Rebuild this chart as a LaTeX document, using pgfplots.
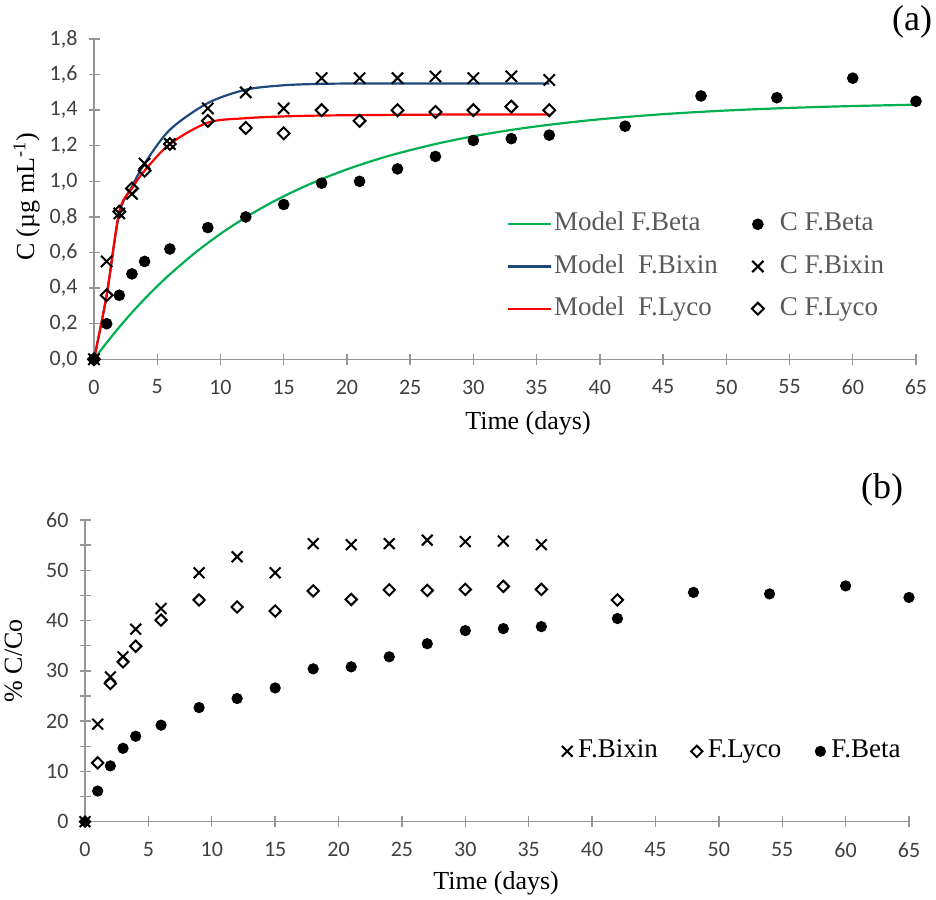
\documentclass[border=0pt]{standalone}
\usepackage{fontspec}
\setmainfont{Liberation Serif}
\newfontfamily\calibri{Carlito}
\usepackage{pgfplots}
\pgfplotsset{compat=1.18}

\definecolor{mgreen}{RGB}{0,176,80}
\definecolor{mblue}{RGB}{31,73,125}
\definecolor{mred}{RGB}{255,0,0}
\definecolor{axgray}{RGB}{150,150,150}
\definecolor{tickgray}{RGB}{64,64,64}
\definecolor{leggray}{RGB}{89,89,89}

\pgfplotsset{
  excel/.style={
    scale only axis, clip=false, set layers,
    axis lines=left, axis line style={-, draw=axgray, line width=0.7pt},
    tick style={draw=axgray, line width=0.7pt},
    tick align=center, major tick length=5.5pt, minor tick length=5.5pt,
    tick label style={font=\calibri\fontsize{11}{13}\selectfont, text=tickgray},
    /pgf/number format/assume math mode=true,
    xticklabel style={yshift=-4pt},
    yticklabel style={xshift=-2pt},
    label style={font=\fontsize{13}{15}\selectfont},
    xmin=0, xmax=65, xtick={0,5,...,65},
    legend cell align=left,
  },
  mline/.style={legend image code/.code={\draw[##1] (0pt,0pt) -- (21.5pt,0pt);}},
  mmarkA/.style={legend image code/.code={\path[draw=none,fill=none] (0pt,-3pt) rectangle (14pt,3pt); \draw[##1] plot coordinates {(4pt,0pt)};}},
  mmarkB/.style={legend image code/.code={\path[draw=none,fill=none] (0pt,-3pt) rectangle (8pt,3pt); \draw[##1] plot coordinates {(4pt,0pt)};}},
  dotm/.style={only marks, mark=*, mark size=#1, black},
  crossm/.style={only marks, mark=x, mark size=#1, black, line width=1pt},
  diam/.style={only marks, mark=square, mark size=#1, black, line width=1pt,
    mark options={fill=white, rotate=45}},
}

\begin{document}
\begin{tikzpicture}

% (a) concentration with model curves
\begin{axis}[excel,
  at={(47pt,-179.65pt)}, anchor=south west,
  width=411pt, height=160.15pt,
  ymin=0, ymax=1.8, ytick={0,0.2,...,1.8},
  yticklabel style={/pgf/number format/.cd, fixed, fixed zerofill, precision=1, use comma},
  xlabel={Time (days)}, ylabel={C (µg mL\textsuperscript{-1})},
  xlabel style={at={(axis description cs:0.528,-0.199)}, anchor=center},
  ylabel style={at={(axis description cs:-0.082,0.507)}, anchor=center},
  legend columns=2,
  legend style={at={(rel axis cs:0.502,0.468)}, anchor=north west, draw=none, fill=none,
    inner sep=0pt, font=\fontsize{13.5}{15}\selectfont, text=leggray, row sep=6.6pt,
    nodes={inner sep=1pt, text height=9.5pt, text depth=3pt},
    /tikz/every even column/.append style={column sep=15pt}},
]
\addplot[mgreen, line width=1.1pt, smooth, mline, on layer=pre main] coordinates {
  (0,0) (1,0.0934) (2,0.1808) (3,0.2626) (4,0.3391) (5,0.4107) (6,0.4776) (8,0.5989)
  (10,0.7050) (12,0.7979) (14,0.8793) (16,0.9504) (18,1.0127) (20,1.0673) (22,1.1150)
  (24,1.1568) (27,1.2099) (30,1.2534) (33,1.2890) (36,1.3181) (40,1.3490) (45,1.3776)
  (50,1.3981) (55,1.4128) (60,1.4233) (65,1.4309)};
\addlegendentry{Model F.Beta}
\addplot[dotm=2.7pt, mmarkA] coordinates {
  (0,0) (1,0.20) (2,0.36) (3,0.48) (4,0.55) (6,0.62) (9,0.74) (12,0.80) (15,0.87)
  (18,0.99) (21,1.00) (24,1.07) (27,1.14) (30,1.23) (33,1.24) (36,1.26) (42,1.31)
  (48,1.48) (54,1.47) (60,1.58) (65,1.45)};
\addlegendentry{C F.Beta}
\addplot[mblue, line width=1.1pt, smooth, mline, on layer=pre main] coordinates {
  (0,0) (1,0.36) (2,0.82) (3,0.97) (4,1.10) (6,1.29) (9,1.44) (12,1.515) (15,1.54)
  (18,1.548) (21,1.55) (24,1.55) (27,1.55) (30,1.55) (33,1.55) (36,1.55)};
\addlegendentry{Model\ \ F.Bixin}
\addplot[crossm=4pt, mmarkA] coordinates {
  (0,0) (1,0.55) (2,0.82) (3,0.93) (4,1.10) (6,1.21) (9,1.41) (12,1.50) (15,1.41)
  (18,1.58) (21,1.58) (24,1.58) (27,1.59) (30,1.58) (33,1.59) (36,1.57)};
\addlegendentry{C F.Bixin}
\addplot[mred, line width=1.1pt, smooth, mline, on layer=pre main] coordinates {
  (0,0) (1,0.36) (2,0.83) (3,0.96) (4,1.06) (6,1.21) (9,1.33) (12,1.355) (15,1.365)
  (18,1.37) (21,1.372) (24,1.374) (27,1.375) (30,1.376) (33,1.376) (36,1.376)};
\addlegendentry{Model\ \ F.Lyco}
\addplot[diam=2.1pt, mmarkA] coordinates {
  (0,0) (1,0.36) (2,0.83) (3,0.96) (4,1.06) (6,1.21) (9,1.34) (12,1.30) (15,1.27)
  (18,1.40) (21,1.34) (24,1.40) (27,1.39) (30,1.40) (33,1.42) (36,1.40)};
\addlegendentry{C F.Lyco}
\end{axis}

% (b) percentage C/Co
\begin{axis}[excel,
  at={(42.5pt,-410.85pt)}, anchor=south west,
  width=412pt, height=150.85pt,
  ymin=0, ymax=60, ytick={0,10,...,60}, minor ytick={5,15,...,55},
  xlabel={Time (days)}, ylabel={\% C/Co},
  xlabel style={at={(axis description cs:0.499,-0.203)}, anchor=center},
  ylabel style={at={(axis description cs:-0.087,0.533)}, anchor=center},
  legend columns=3,
  legend style={at={(rel axis cs:0.575,0.286)}, anchor=north west, draw=none, fill=none,
    inner sep=0pt, font=\fontsize{13.5}{15}\selectfont, text=black,
    nodes={inner sep=1.5pt, text height=9.5pt, text depth=3pt},
    /tikz/every even column/.append style={column sep=14pt}},
]
\addplot[crossm=3.8pt, mmarkB] coordinates {
  (0,0) (1,19.4) (2,28.8) (3,32.8) (4,38.3) (6,42.4) (9,49.5) (12,52.7) (15,49.5)
  (18,55.3) (21,55.1) (24,55.3) (27,56.0) (30,55.7) (33,55.8) (36,55.1)};
\addlegendentry{F.Bixin}
\addplot[diam=2pt, mmarkB] coordinates {
  (1,11.7) (2,27.5) (3,31.8) (4,34.9) (6,40.1) (9,44.1) (12,42.7) (15,41.9)
  (18,45.9) (21,44.2) (24,46.1) (27,46.0) (30,46.2) (33,46.8) (36,46.2) (42,44.1)};
\addlegendentry{F.Lyco}
\addplot[dotm=2.6pt, mmarkB] coordinates {
  (1,6.1) (2,11.1) (3,14.6) (4,17.0) (6,19.2) (9,22.7) (12,24.5) (15,26.6)
  (18,30.4) (21,30.8) (24,32.8) (27,35.4) (30,38.0) (33,38.4) (36,38.8) (42,40.4)
  (48,45.6) (54,45.3) (60,46.9) (65,44.6)};
\addlegendentry{F.Beta}
\addplot[only marks, mark=square*, mark size=2.1pt, mark options={rotate=45}, black, forget plot] coordinates {(0,0)};
\end{axis}

\node[font=\fontsize{18}{20}\selectfont] at (456pt,-11pt) {(a)};
\node[font=\fontsize{18}{20}\selectfont] at (441pt,-245pt) {(b)};
\pgfresetboundingbox
\path (0pt,0pt) rectangle (468pt,-449.5pt);
\end{tikzpicture}
\end{document}
